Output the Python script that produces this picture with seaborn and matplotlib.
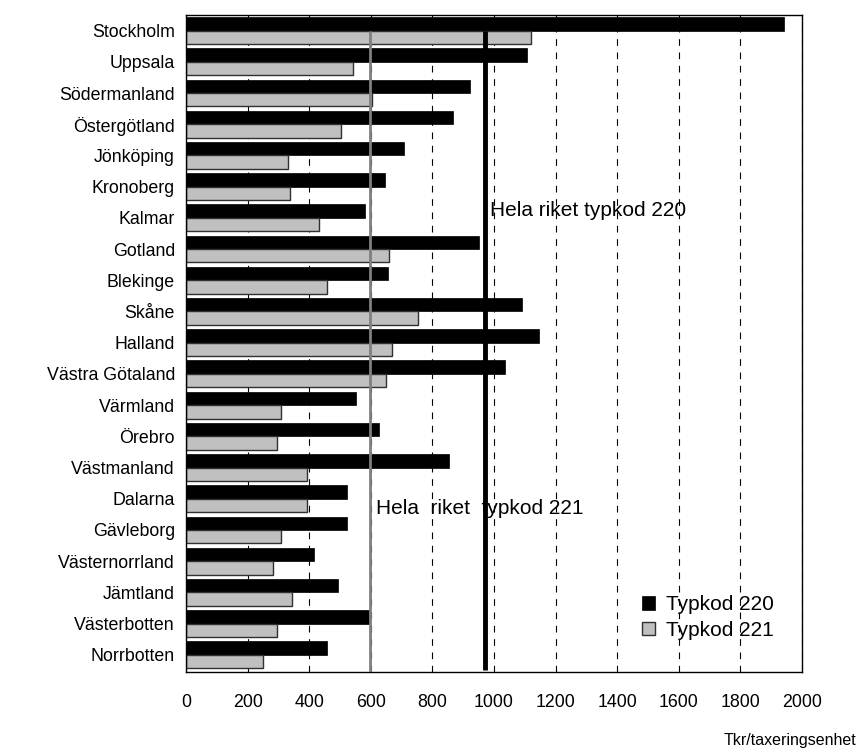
import numpy as np
import matplotlib
matplotlib.use("Agg")
import matplotlib.pyplot as plt
import pandas as pd
import seaborn as sns

sns.set_style("white")
plt.rcParams['font.family'] = ['Liberation Sans', 'DejaVu Sans']
plt.rcParams['text.color'] = 'black'
plt.rcParams['xtick.color'] = 'black'
plt.rcParams['ytick.color'] = 'black'

lan = ['Stockholm', 'Uppsala', 'Södermanland', 'Östergötland', 'Jönköping',
       'Kronoberg', 'Kalmar', 'Gotland', 'Blekinge', 'Skåne', 'Halland',
       'Västra Götaland', 'Värmland', 'Örebro', 'Västmanland', 'Dalarna',
       'Gävleborg', 'Västernorrland', 'Jämtland', 'Västerbotten', 'Norrbotten']
typ220 = [1941, 1108, 921, 866, 709, 645, 582, 951, 656, 1092, 1147,
          1035, 553, 626, 853, 522, 522, 414, 494, 597, 459]
typ221 = [1120, 541, 603, 502, 330, 338, 433, 658, 458, 752, 668,
          650, 310, 295, 393, 393, 310, 284, 343, 295, 250]
riket220 = 970
riket221 = 597

df = pd.DataFrame({
    'lan': lan * 2,
    'varde': typ220 + typ221,
    'typ': ['Typkod 220'] * len(lan) + ['Typkod 221'] * len(lan),
})

fig = plt.figure(figsize=(8.62, 7.53), dpi=100)
ax = fig.add_axes([0.2158, 0.1076, 0.7146, 0.8725])

# rutnät bakom staplarna
for v in range(200, 2001, 200):
    ax.axvline(v, color='black', lw=0.8, ls=(0, (6, 6)), zorder=0)

sns.barplot(data=df, y='lan', x='varde', hue='typ', orient='h',
            palette=['black', '#c0c0c0'], width=0.86, saturation=1,
            ax=ax, zorder=2)

for p in ax.patches:
    if p.get_facecolor()[0] > 0.5:
        p.set_edgecolor('#303030')
        p.set_linewidth(1.0)
    else:
        p.set_edgecolor('black')
        p.set_linewidth(0.5)

# riksgenomsnitt
ax.vlines(riket221, 0.0, 20.6, color='#808080', lw=2, zorder=4)
ax.vlines(riket220, 0.0, 20.5, color='black', lw=3.5, zorder=4)
ax.text(riket220 + 18, 5.75, 'Hela riket typkod 220', fontsize=15,
        va='center', ha='left', zorder=3)
ax.text(riket221 + 20, 15.32, 'Hela  riket  typkod 221', fontsize=15,
        va='center', ha='left', zorder=3)

ax.set_xlim(0, 2000)
ax.set_ylim(20.55, -0.5)
ax.set_xticks(range(0, 2001, 200))
ax.tick_params(axis='x', length=0, pad=16, labelsize=12.8)
ax.tick_params(axis='y', length=0, pad=8, labelsize=12.8)
ax.set_xlabel('')
ax.set_ylabel('')
for s in ax.spines.values():
    s.set_color('black')
    s.set_linewidth(1.0)

leg = ax.legend(loc='lower right', bbox_to_anchor=(0.9675, 0.0365),
                borderaxespad=0, frameon=False, fontsize=15,
                handlelength=0.62, handleheight=0.62,
                handletextpad=0.5, labelspacing=0.3)

fig.text(0.994, 0.006, 'Tkr/taxeringsenhet', fontsize=11.5, ha='right',
         va='bottom')

fig.savefig('out.png', dpi=100)
